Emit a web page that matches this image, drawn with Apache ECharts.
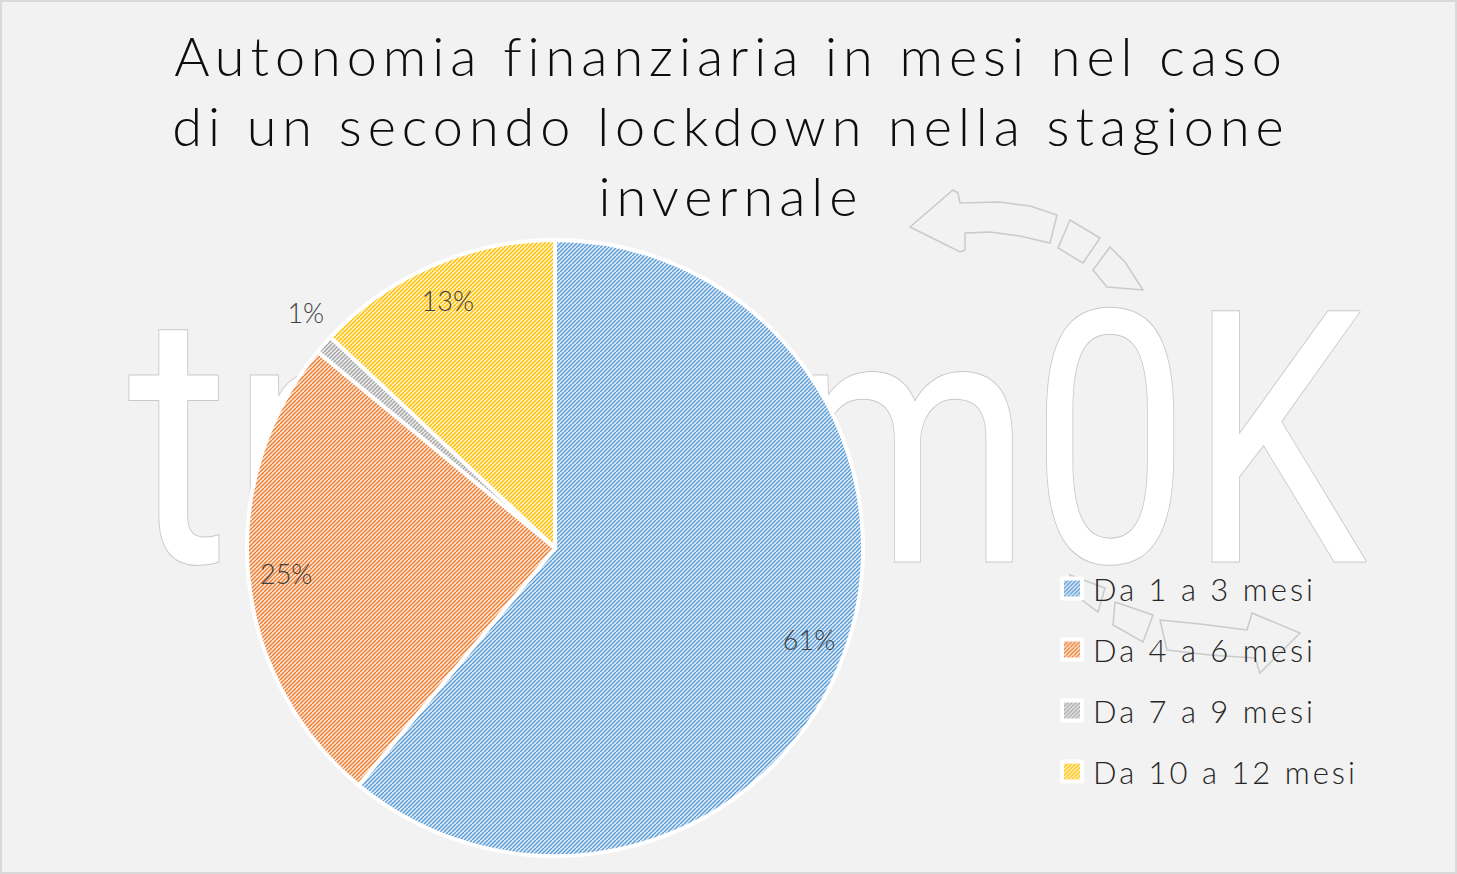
<!DOCTYPE html>
<html>
<head>
<meta charset="utf-8">
<script src="https://cdn.jsdelivr.net/npm/echarts@6/dist/echarts.min.js"></script>
<style>
  html, body { margin: 0; padding: 0; background: #ffffff; }
  #chart { width: 1457px; height: 874px; }
  /* title and legend are set with wide tracking like the original */
  #chart text[style*="54px"] { letter-spacing: 6px; }
  #chart text[style*="31px"] { letter-spacing: 3px; }
</style>
</head>
<body>
<div id="chart"></div>
<script>
const titleLines = [
  "Autonomia finanziaria in mesi nel caso",
  "di un secondo lockdown nella stagione",
  "invernale",
];
const categories = ["Da 1 a 3 mesi", "Da 4 a 6 mesi", "Da 7 a 9 mesi", "Da 10 a 12 mesi"];
const shares = [61, 25, 1, 13];

const stripeColors = ["#5b9bd5", "#ed7d31", "#a5a5a5", "#ffc000"];
const tintColors = ["#e4eef9", "#fde8da", "#ededed", "#fff3cf"];
const FONT = "Lato";

// diagonal "/" hatch, like Excel's wide upward diagonal fill
function hatch(fg, bg) {
  const c = document.createElement("canvas");
  c.width = 8;
  c.height = 8;
  const g = c.getContext("2d");
  g.fillStyle = bg;
  g.fillRect(0, 0, 8, 8);
  g.strokeStyle = fg;
  g.lineWidth = 1.4;
  for (let k = -8; k <= 16; k += 4) {
    g.beginPath();
    g.moveTo(k, 8);
    g.lineTo(k + 8, 0);
    g.stroke();
  }
  return c;
}

const pieData = categories.map((name, i) => ({
  name: name,
  value: shares[i],
  itemStyle: { color: { image: hatch(stripeColors[i], tintColors[i]), repeat: "repeat" } },
}));

const labelStyle = {
  fontFamily: FONT,
  fontWeight: 300,
  fontSize: 27,
  color: "#404040",
};

// watermark outlines (decoration behind the chart)
const wmStyle = { fill: "none", stroke: "#cacaca", lineWidth: 1.5 };
const watermark = [
  { type: "polygon", shape: { points: [[910, 227], [953, 190], [958, 193], [960, 203], [1000, 202], [1030, 206], [1057, 215], [1050, 243], [1020, 236], [990, 232], [965, 233], [965, 250], [960, 252]] } },
  { type: "polygon", shape: { points: [[1070, 220], [1100, 238], [1083, 263], [1058, 248]] } },
  { type: "polygon", shape: { points: [[1110, 247], [1125, 262], [1143, 290], [1107, 287], [1093, 270]] } },
  { type: "polygon", shape: { points: [[1070, 575], [1105, 588], [1098, 612], [1082, 600]] } },
  { type: "polygon", shape: { points: [[1115, 602], [1153, 615], [1143, 642], [1113, 625]] } },
  { type: "polygon", shape: { points: [[1160, 620], [1200, 624], [1247, 630], [1252, 613], [1300, 633], [1260, 673], [1255, 658], [1210, 655], [1167, 650]] } },
].map((g) => Object.assign(g, { z: 0, silent: true, style: wmStyle }));

watermark.push(
  {
    type: "text", x: 128, y: 617, z: 0, silent: true, scaleX: 0.88,
    style: { text: "tr", font: "400 352px Roboto", fill: "#ffffff", stroke: "#c8c8c8", lineWidth: 2, textVerticalAlign: "bottom" },
  },
  {
    type: "text", x: 1366, y: 617, z: 0, silent: true, scaleX: 0.8,
    style: { text: "m0K", font: "400 352px Roboto", fill: "#ffffff", stroke: "#c8c8c8", lineWidth: 2, align: "right", textVerticalAlign: "bottom" },
  },
  {
    type: "rect", z: 10, silent: true,
    shape: { x: 1, y: 1, width: 1455, height: 872 },
    style: { fill: "none", stroke: "#d9d9d9", lineWidth: 2 },
  }
);

const chart = echarts.init(document.getElementById("chart"), null, { renderer: "svg" });

chart.setOption({
  backgroundColor: "#f2f2f2",
  animation: false,
  title: {
    text: titleLines.join("\n"),
    left: 726,
    top: 15,
    textAlign: "center",
    textStyle: {
      fontFamily: FONT,
      fontWeight: 300,
      fontSize: 54,
      lineHeight: 70,
      color: "#0d0d0d",
    },
  },
  graphic: watermark,
  legend: {
    orient: "vertical",
    left: 1060,
    top: 573,
    padding: 0,
    icon: "rect",
    itemWidth: 20,
    itemHeight: 20,
    itemGap: 30,
    selectedMode: false,
    itemStyle: { borderColor: "#ffffff", borderWidth: 4 },
    textStyle: {
      fontFamily: FONT,
      fontWeight: 300,
      fontSize: 31,
      lineHeight: 30,
      color: "#262626",
      padding: [0, 0, 0, 6],
    },
    data: categories,
  },
  series: [
    {
      type: "pie",
      center: [555, 548],
      radius: [0, 308],
      startAngle: 90,
      clockwise: true,
      silent: true,
      z: 2,
      itemStyle: { borderColor: "#ffffff", borderWidth: 4 },
      label: { show: false },
      labelLine: { show: false },
      data: pieData,
    },
    {
      // inner labels, placed near the rim
      type: "pie",
      center: [555, 548],
      radius: [242, 292],
      startAngle: 90,
      silent: true,
      z: 3,
      legendHoverLink: false,
      itemStyle: { color: "transparent", borderWidth: 0 },
      labelLine: { show: false },
      label: Object.assign({ position: "inside", formatter: "{c}%" }, labelStyle),
      data: categories.map((name, i) => ({
        name: name,
        value: shares[i],
        label: { show: shares[i] > 5 },
      })),
    },
    {
      // small slice label sits just outside
      type: "pie",
      center: [555, 548],
      radius: [330, 350],
      startAngle: 88,
      silent: true,
      z: 3,
      legendHoverLink: false,
      itemStyle: { color: "transparent", borderWidth: 0 },
      labelLine: { show: false },
      label: Object.assign({ position: "inside", formatter: "{c}%" }, labelStyle),
      data: categories.map((name, i) => ({
        name: name,
        value: shares[i],
        label: { show: shares[i] <= 5 },
      })),
    },
  ],
});
</script>
</body>
</html>
